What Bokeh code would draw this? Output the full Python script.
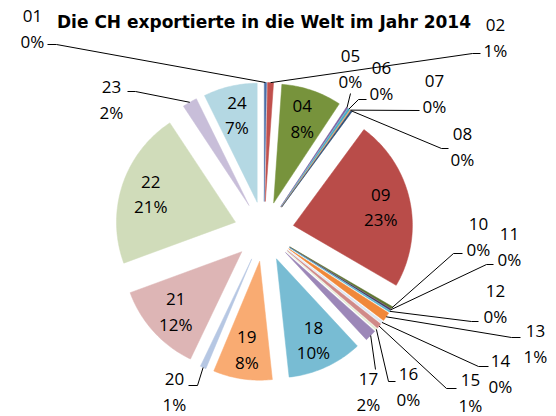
import math
from bokeh.plotting import figure
from bokeh.models import Range1d, ColumnDataSource
from bokeh.embed import file_html
from bokeh.resources import INLINE
from bokeh.core.properties import value

# ---- data ----
codes = ["01", "02", "04", "05", "06", "07", "08", "09", "10", "11", "12", "13",
         "14", "15", "16", "17", "18", "19", "20", "21", "22", "23", "24"]
shares = [0.3, 0.8, 8.2, 0.2, 0.3, 0.1, 0.2, 23.3, 0.3, 0.2, 0.2, 1.2,
          0.3, 0.7, 0.2, 1.6, 10.2, 8.0, 0.8, 12.3, 21.3, 2.0, 7.3]
title_text = "Die CH exportierte in die Welt im Jahr 2014"

# ---- styles ----
colors = ["#4A6EA8", "#C0504D", "#77933C", "#7D60A0", "#4BACC6", "#F79646", "#2C4D75",
          "#B94C49", "#5F7530", "#4D3B62", "#5BB3D0", "#F0883A", "#DCE6F2", "#D08A88",
          "#E4EDD4", "#9C87B8", "#78BCD3", "#F9AB72", "#B6C7E3", "#DDB5B5", "#D0DCBA",
          "#C8BED9", "#B4D8E3"]

# ---- layout (screen pixel space) ----
CX, CY = 263.5, 231.0   # pie centre
R = 119.0               # radius
EXPLODE = 30.0          # explosion distance
LABEL_FONT = value("Open Sans")
LABEL_SIZE = "17px"
LINE_GAP = 12.5

# outside labels: code -> (label centre x, y, attach x, y, elbow x, y)
outside = {
    "01": (32, 28, 47, 44, 56, 44),
    "02": (495, 37, 480, 53, 472, 53),
    "05": (350, 68, 350, 93, 350, 93),
    "06": (381, 80, 366, 99, 358, 99),
    "07": (434, 93, 419, 110, 419, 110),
    "08": (462, 146, 448, 148, 441, 148),
    "10": (478, 236, 462, 253, 453, 253),
    "11": (509, 246, 493, 264, 486, 264),
    "12": (495, 303, 478, 321, 471, 321),
    "13": (535, 343, 520, 337, 511, 337),
    "14": (500, 373, 488, 366, 478, 366),
    "15": (470, 392, 456, 388, 446, 388),
    "16": (408, 386, 395, 381, 388, 381),
    "17": (368, 391, 375, 369, 375, 369),
    "20": (174, 391, 188, 385, 197, 385),
    "23": (111, 99, 127, 91, 135, 91),
}

p = figure(width=556, height=416, output_backend="svg", toolbar_location=None,
           x_range=Range1d(0, 556), y_range=Range1d(416, 0), min_border=0)
p.axis.visible = False
p.grid.visible = False
p.outline_line_color = None
p.background_fill_color = "white"
p.border_fill_color = "white"


def direction(theta_deg):
    t = math.radians(theta_deg)
    return math.sin(t), -math.cos(t)


total = sum(shares)
xs, ys = [], []
label_x, label_y, label_code, label_pct = [], [], [], []
lead_x, lead_y = [], []
start = 0.0
for code, v in zip(codes, shares):
    span = v / total * 360.0
    end = start + span
    mid = (start + end) / 2
    mdx, mdy = direction(mid)
    ox, oy = CX + EXPLODE * mdx, CY + EXPLODE * mdy
    px, py = [ox], [oy]
    n = max(2, int(span / 1.0) + 2)
    for i in range(n + 1):
        a = start + span * i / n
        dx, dy = direction(a)
        px.append(ox + R * dx)
        py.append(oy + R * dy)
    xs.append(px)
    ys.append(py)
    pct = f"{round(v):.0f}%"
    if code in outside:
        lx, ly, ax, ay, ex, ey = outside[code]
        sx, sy = ox + R * mdx, oy + R * mdy
        lead_x.append([sx, ex, ax])
        lead_y.append([sy, ey, ay])
    else:
        rr = EXPLODE + 0.75 * R
        lx, ly = CX + rr * mdx, CY + rr * mdy
    label_x.append(lx)
    label_y.append(ly)
    label_code.append(code)
    label_pct.append(pct)
    start = end

p.patches(xs=xs, ys=ys, fill_color=colors, line_color=colors, line_width=0.5)
p.multi_line(xs=lead_x, ys=lead_y, line_color="black", line_width=1)

src = ColumnDataSource(dict(x=label_x, y1=[y - LINE_GAP for y in label_y],
                            y2=[y + LINE_GAP for y in label_y],
                            code=label_code, pct=label_pct))
p.text(x="x", y="y1", text="code", source=src, text_align="center",
       text_baseline="middle", text_font=LABEL_FONT, text_font_size=LABEL_SIZE,
       text_color="black")
p.text(x="x", y="y2", text="pct", source=src, text_align="center",
       text_baseline="middle", text_font=LABEL_FONT, text_font_size=LABEL_SIZE,
       text_color="black")

p.text(x=[263.5], y=[21], text=[title_text], text_align="center",
       text_baseline="middle", text_font=value("DejaVu Sans"),
       text_font_style="bold", text_font_size="17px", text_color="black")

open("out.html", "w").write(file_html(p, INLINE))
